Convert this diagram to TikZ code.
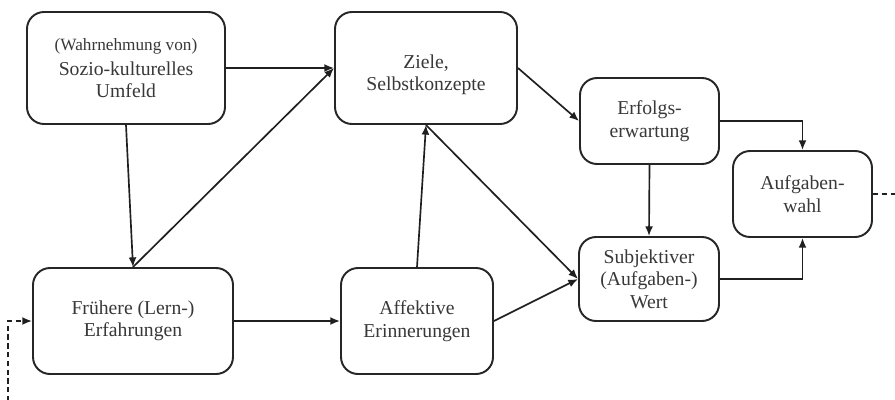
\documentclass[tikz,border=0pt]{standalone}
\usepackage{fontspec}
\setmainfont{Liberation Serif}
\usetikzlibrary{arrows.meta}
\begin{document}
\begin{tikzpicture}[x=0.02cm,y=-0.02cm,
  box/.style={draw=black!85, line width=1.1pt, rounded corners=0.34cm, inner sep=0pt, align=center,
    text=black!78, font=\fontsize{11.2}{12.8}\selectfont},
  lbl/.style={inner sep=0pt, align=center, text=black!78, font=\fontsize{11.2}{12.8}\selectfont},
  arr/.style={draw=black!88, line width=0.95pt, -{Latex[length=5.5pt,width=4.5pt]}},
  fb/.style={draw=black!88, line width=0.95pt, dashed, dash pattern=on 3pt off 2pt}]
\useasboundingbox (0,0) rectangle (895,399);
\clip (0,0) rectangle (895,399);
\fill[white] (0,0) rectangle (895,399);
\node[box, minimum width=198*0.02cm, minimum height=112*0.02cm] (s) at (126,68)
  {{\fontsize{9.8}{11}\selectfont (Wahrnehmung von)}\\[1.5pt]Sozio-kulturelles\\Umfeld};
\node[box, minimum width=182*0.02cm, minimum height=112*0.02cm] (z) at (426,68) {};
\node[lbl] (zt) at (426,75) {Ziele,\\Selbstkonzepte};
\node[box, minimum width=139*0.02cm, minimum height=86*0.02cm] (e) at (649.5,121) {Erfolgs-\\erwartung};
\node[box, minimum width=139*0.02cm, minimum height=86*0.02cm] (g) at (802.5,194) {Aufgaben-\\wahl};
\node[box, minimum width=140*0.02cm, minimum height=84*0.02cm] (w) at (649,279) {Subjektiver\\(Aufgaben-)\\Wert};
\node[box, minimum width=200*0.02cm, minimum height=106*0.02cm] (f) at (133,321) {Frühere (Lern-)\\Erfahrungen};
\node[box, minimum width=152*0.02cm, minimum height=106*0.02cm] (a) at (417,321) {Affektive\\Erinnerungen};
\coordinate (r1) at (905,194);
\coordinate (r2) at (905,410);
\coordinate (l1) at (8,410);
\coordinate (l2) at (8,321);
\draw[arr] (s.east) -- (z.west);
\draw[arr] (s.south) -- (f.north);
\draw[arr] (f.north) -- (z.west);
\draw[arr] (f.east) -- (a.west);
\draw[arr] (a.north) -- (z.south);
\draw[arr] (z.south) -- (w.west);
\draw[arr] (a.east) -- (w.west);
\draw[arr] (z.east) -- (e.west);
\draw[arr] (e.south) -- (w.north);
\draw[arr] (e.east) -| (g.north);
\draw[arr] (w.east) -| (g.south);
\draw[fb] (g.east) -- (r1) -- (r2);
\draw[fb, -{Latex[length=5.5pt,width=4.5pt]}] (l1) -- (l2) -- (f.west);
\end{tikzpicture}
\end{document}
